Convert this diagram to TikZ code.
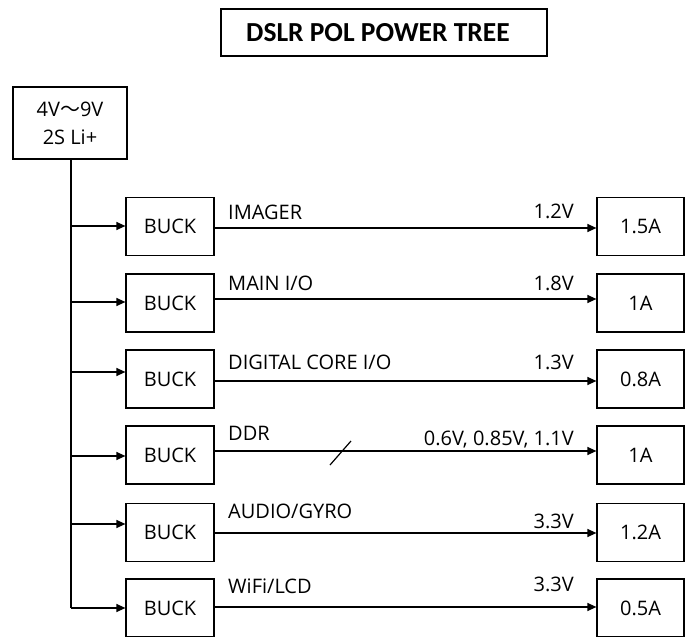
\documentclass[tikz,border=0pt]{standalone}
\usepackage{fontspec}
\setmainfont{Open Sans}
\newfontfamily\titlefont{Carlito}
\newfontfamily\cjk{Noto Sans CJK SC}
\usetikzlibrary{arrows.meta}
\begin{document}
\begin{tikzpicture}[x=1pt,y=-1pt,
  box/.style={draw,line width=1.2pt,rectangle,inner sep=0pt,font=\fontsize{20}{22}\selectfont},
  buckbox/.style={box,minimum width=88pt,minimum height=58pt},
  loadbox/.style={box,minimum width=87pt,minimum height=58pt},
  wire/.style={line width=1.2pt},
  arr/.style={wire,-{Triangle[length=9pt,width=8pt]}},
  lbl/.style={anchor=base west,inner sep=0pt,font=\fontsize{20}{22}\selectfont},
  volt/.style={anchor=base east,inner sep=0pt,font=\fontsize{20}{22}\selectfont}]
\useasboundingbox (0,0) rectangle (689,637);
\node[draw,line width=1.2pt,minimum width=326pt,minimum height=47pt,inner sep=0pt,font=\titlefont\bfseries\fontsize{27.5}{30}\selectfont] (title) at (384,32.5) {\hspace*{-12pt}DSLR POL POWER TREE};
\node[box,minimum width=114pt,minimum height=72pt,align=center,font=\fontsize{20}{28}\selectfont] (src) at (70,123) {4V{\cjk ～}9V\\2S Li+};
% rows
\foreach \i/\c/\ya/\yo/\lb/\lv/\vb/\vt/\ld in {
  1/226.5/226/228/219/IMAGER/218/1.2V/1.5A,
  2/303/302/299/290/MAIN I\slash O/290/1.8V/1A,
  3/379/372/381/369/DIGITAL CORE I\slash O/369/1.3V/0.8A,
  4/455/456/451/440/DDR/445/{0.6V, 0.85V, 1.1V}/1A,
  5/532.5/524/533/518/AUDIO\slash GYRO/528/3.3V/1.2A,
  6/608/608/607/593/WiFi\slash LCD/591/3.3V/0.5A}{
  \node[buckbox] (b\i) at (170,\c) {BUCK};
  \node[loadbox] (l\i) at (640.5,\c) {\ld};
  \coordinate (t\i) at (71,\ya);
  \coordinate (o\i) at (214,\yo);
  \draw[arr] (t\i) -- (t\i -| b\i.west);
  \draw[arr] (o\i) -- (o\i -| l\i.west);
  \node[lbl] (n\i) at (228,\lb) {\lv};
  \node[volt] (v\i) at (574,\vb) {\vt};
}
\coordinate (tr) at (71,0);
\draw[wire] (src.south -| tr) -- (t6);
\coordinate (s1) at (330,465);
\coordinate (s2) at (351,441);
\draw[wire] (s1) -- (s2);
\end{tikzpicture}
\end{document}
